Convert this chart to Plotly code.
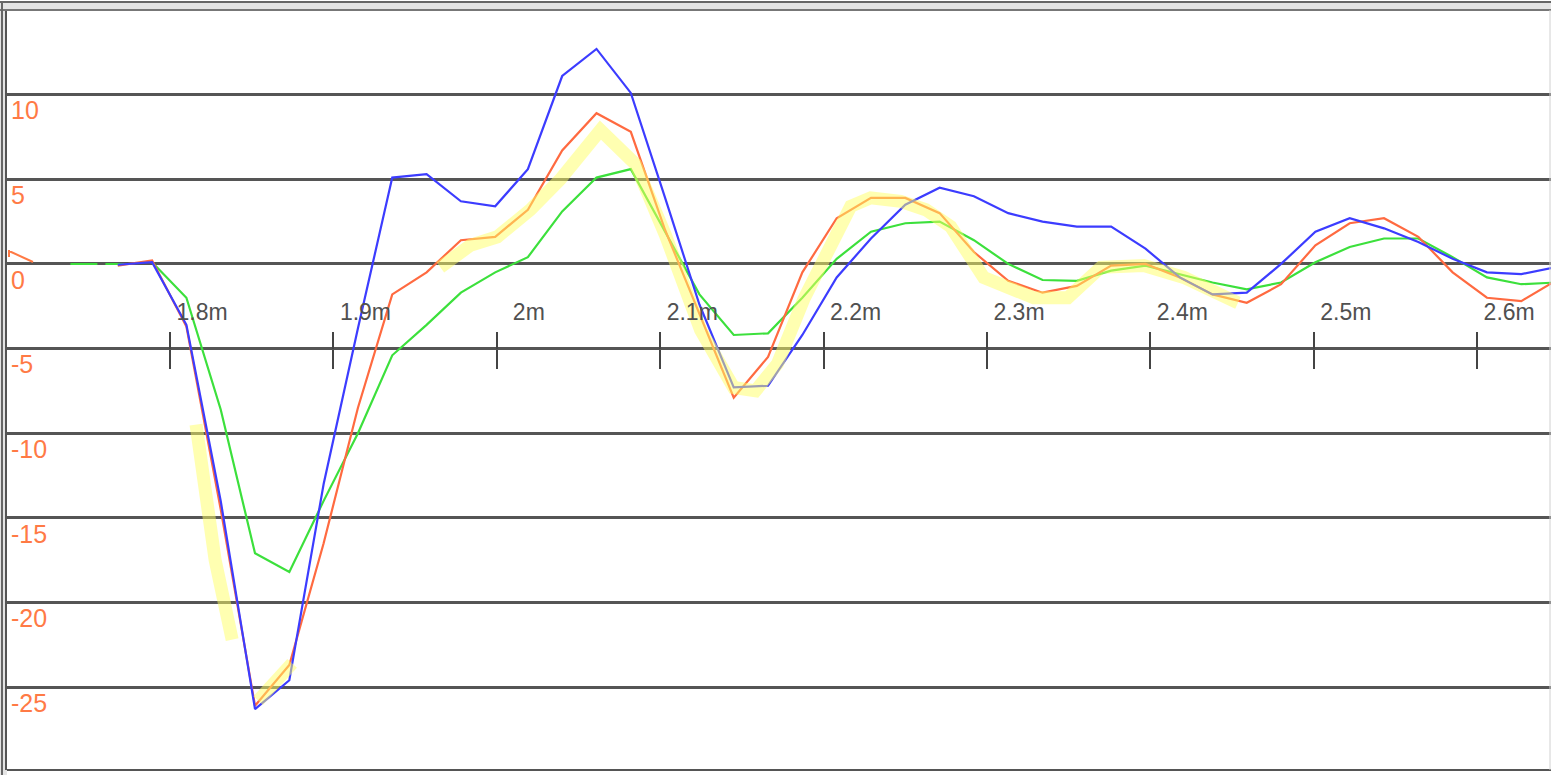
import plotly.graph_objects as go

# ---- data ----
x_main = [1.768, 1.789, 1.810, 1.831, 1.852, 1.873, 1.894, 1.915, 1.936, 1.957,
          1.978, 1.999, 2.019, 2.040, 2.061, 2.082, 2.103, 2.124, 2.145, 2.166,
          2.187, 2.208, 2.229, 2.250, 2.271, 2.292, 2.313, 2.334, 2.355, 2.376,
          2.397, 2.418, 2.438, 2.459, 2.480, 2.501, 2.522, 2.543, 2.564, 2.585,
          2.606, 2.627, 2.648]

blue_y = [-0.05, 0.1, -3.6, -14.0, -26.3, -24.6, -13.0, -3.8, 5.1, 5.3,
          3.7, 3.4, 5.6, 11.1, 12.7, 10.1, 3.9, -2.4, -7.3, -7.2,
          -4.2, -0.8, 1.5, 3.5, 4.5, 4.0, 3.0, 2.5, 2.2, 2.2,
          0.9, -0.8, -1.8, -1.7, 0.0, 1.9, 2.7, 2.1, 1.3, 0.3,
          -0.5, -0.6, -0.2]

orange_y = [-0.1, 0.2, -3.7, -14.5, -26.1, -23.7, -16.5, -8.5, -1.8, -0.5,
            1.4, 1.6, 3.2, 6.7, 8.9, 7.8, 2.0, -2.9, -7.9, -5.5,
            -0.5, 2.7, 3.9, 3.9, 3.0, 0.7, -1.0, -1.7, -1.3, -0.1,
            0.0, -0.8, -1.8, -2.3, -1.2, 1.1, 2.4, 2.7, 1.6, -0.5,
            -2.0, -2.2, -1.0]

green_y = [None, 0.1, -2.0, -8.6, -17.1, -18.2, -14.0, -10.0, -5.4, -3.6,
           -1.7, -0.5, 0.4, 3.1, 5.1, 5.6, 1.9, -1.8, -4.2, -4.1,
           -2.0, 0.3, 1.9, 2.4, 2.5, 1.4, 0.0, -0.95, -1.0, -0.4,
           -0.1, -0.6, -1.1, -1.5, -1.1, 0.1, 1.0, 1.5, 1.5, 0.4,
           -0.8, -1.2, -1.1]

green_lead_x = [1.739, 1.772]
green_lead_y = [0.0, 0.0]

yellow_x = [1.8159, 1.8276, 1.8380, None,
            1.8539, 1.8747, None,
            1.9654, 1.9838, 2.0003, 2.0205, 2.0389, 2.0634, 2.0848, 2.1032,
            2.1247, 2.1449, 2.1583, 2.1718, 2.1878, 2.2025, 2.2166, 2.2288,
            2.2472, 2.2625, 2.2778, 2.2980, 2.3286, 2.3495, 2.3593, 2.3697,
            2.3960, 2.4205, 2.4536]
yellow_y = [-9.5, -17.5, -22.2, None,
            -25.8, -23.6, None,
            -0.2, 1.1, 1.6, 3.2, 5.0, 7.9, 5.9, 1.7,
            -3.9, -7.3, -7.5, -5.9, -2.1, 0.8, 3.4, 3.9,
            3.7, 3.2, 2.2, -0.8, -2.0, -2.0, -1.1, -0.2,
            -0.1, -0.8, -2.3]

x_tick_vals = [1.8, 1.9, 2.0, 2.1, 2.2, 2.3, 2.4, 2.5, 2.6]
x_tick_text = ["1.8m", "1.9m", "2m", "2.1m", "2.2m", "2.3m", "2.4m", "2.5m", "2.6m"]
y_tick_vals = [-25, -20, -15, -10, -5, 0, 5, 10]
y_tick_text = ["-25", "-20", "-15", "-10", "-5", "0", "5", "10"]

X_RANGE = [1.7002, 2.6452]
Y_RANGE = [-29.9, 15.0]

BLUE = "#3c3cff"
ORANGE = "#ff6a40"
GREEN = "#3ce03c"
YELLOW = "rgba(255,255,100,0.5)"
GRID = "#555555"
LABEL_ORANGE = "#ff7a45"

fig = go.Figure()
fig.add_trace(go.Scatter(x=green_lead_x, y=green_lead_y, mode="lines",
                         line=dict(color=GREEN, width=2, dash="27px,8px"),
                         hoverinfo="skip"))
fig.add_trace(go.Scatter(x=x_main, y=green_y, mode="lines",
                         line=dict(color=GREEN, width=2.2)))
fig.add_trace(go.Scatter(x=x_main, y=orange_y, mode="lines",
                         line=dict(color=ORANGE, width=2.2)))
fig.add_trace(go.Scatter(x=x_main, y=blue_y, mode="lines",
                         line=dict(color=BLUE, width=2.2)))
fig.add_trace(go.Scatter(x=yellow_x, y=yellow_y, mode="lines", connectgaps=False,
                         line=dict(color=YELLOW, width=13)))

x_pos = (-5 - Y_RANGE[0]) / (Y_RANGE[1] - Y_RANGE[0])

# frame decoration (pixel -> paper conversions)
W_PLOT = 1544.0
H_PLOT = 760.0
def px(p):
    return (p - 7) / W_PLOT
def py(p):
    return (770 - p) / H_PLOT

shapes = [
    dict(type="rect", xref="paper", yref="paper", x0=px(0), x1=px(1551), y0=py(10), y1=py(2),
         fillcolor="#e4e4e4", line=dict(width=0), layer="below"),
    dict(type="rect", xref="paper", yref="paper", x0=px(0), x1=px(7), y0=py(775), y1=py(2),
         fillcolor="#e4e4e4", line=dict(width=0), layer="below"),
    dict(type="line", xref="paper", yref="paper", x0=px(0), x1=px(1551), y0=py(2), y1=py(2),
         line=dict(color="#666666", width=2)),
    dict(type="line", xref="paper", yref="paper", x0=px(0), x1=px(1551), y0=py(10), y1=py(10),
         line=dict(color="#777777", width=2)),
    dict(type="line", xref="paper", yref="paper", x0=px(2), x1=px(2), y0=py(775), y1=py(2),
         line=dict(color="#666666", width=2)),
    dict(type="line", xref="paper", yref="paper", x0=px(7), x1=px(1551), y0=py(770), y1=py(770),
         line=dict(color="#555555", width=2)),
    dict(type="line", xref="paper", yref="paper", x0=px(1550), x1=px(1550), y0=py(770), y1=py(10),
         line=dict(color="#d0d0d0", width=1)),
    # small orange marker next to the zero label
    dict(type="path", xref="paper", yref="paper",
         path=f"M {px(9)},{py(250)} L {px(9)},{py(257)} M {px(9)},{py(251)} L {px(33)},{py(262)}",
         line=dict(color=LABEL_ORANGE, width=2)),
]

fig.update_layout(
    width=1551, height=775, autosize=False,
    margin=dict(l=7, r=0, t=10, b=5, pad=0),
    paper_bgcolor="white", plot_bgcolor="white",
    showlegend=False,
    shapes=shapes,
    xaxis=dict(range=X_RANGE, side="top", anchor="free", position=x_pos,
               tickvals=x_tick_vals, ticktext=x_tick_text,
               ticks="outside", ticklen=17, tickwidth=2, tickcolor="#444444",
               ticklabelshift=32, ticklabelstandoff=2,
               tickfont=dict(family="Liberation Sans, Arial", size=23, color="#505050"),
               showgrid=False, zeroline=False, showline=False, fixedrange=True),
    xaxis2=dict(range=X_RANGE, overlaying="x", side="top", anchor="free", position=x_pos,
                tickvals=x_tick_vals, ticks="inside", ticklen=19, tickwidth=2,
                tickcolor="#444444", showticklabels=False,
                showgrid=False, zeroline=False, showline=False),
    yaxis=dict(range=Y_RANGE, tickvals=y_tick_vals, ticktext=y_tick_text,
               ticks="", ticklabelposition="inside", ticklabelshift=16,
               ticklabelstandoff=6,
               tickfont=dict(family="Liberation Sans, Arial", size=25, color=LABEL_ORANGE),
               showgrid=True, gridcolor=GRID, gridwidth=2.5,
               zeroline=False, showline=True, linecolor="#555555", linewidth=2,
               fixedrange=True),
)

# invisible trace so that the second (tick-only) x axis is rendered
fig.add_trace(go.Scatter(x=[X_RANGE[0]], y=[0], xaxis="x2", mode="markers",
                         marker=dict(opacity=0), hoverinfo="skip"))

fig.write_html("out.html", config={"displayModeBar": False},
               post_script="document.body.style.margin='0';")
